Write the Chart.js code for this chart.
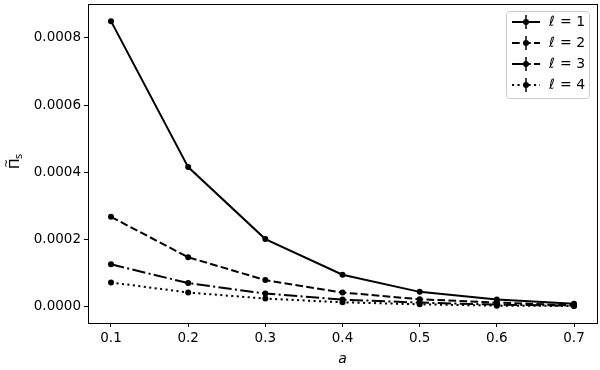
<!DOCTYPE html>
<html>
<head>
<meta charset="utf-8">
<script src="https://cdn.jsdelivr.net/npm/chart.js@4.4.1/dist/chart.umd.min.js"></script>
<style>
  html, body { margin: 0; padding: 0; background: #fff; }
  #wrap { width: 600px; height: 370px; }
</style>
</head>
<body>
<div id="wrap"><canvas id="piChart"></canvas></div>
<script>
const aValues = [0.1, 0.2, 0.3, 0.4, 0.5, 0.6, 0.7];
const pi_l1 = [0.000850, 0.000416, 0.000202, 0.000096, 0.000045, 0.000022, 0.000010];
const pi_l2 = [0.000268, 0.000148, 0.000080, 0.000043, 0.000023, 0.000013, 0.000005];
const pi_l3 = [0.000127, 0.000071, 0.000040, 0.000022, 0.000013, 0.000007, 0.000004];
const pi_l4 = [0.000073, 0.000043, 0.000025, 0.000014, 0.000008, 0.000004, 0.000003];
const seriesLabels = ["ℓ = 1", "ℓ = 2", "ℓ = 3", "ℓ = 4"];
const xTicks = [0.1, 0.2, 0.3, 0.4, 0.5, 0.6, 0.7];
const yTicks = [0.0000, 0.0002, 0.0004, 0.0006, 0.0008];

const FONT = "'DejaVu Sans', sans-serif";
const dashes = [[], [7.7, 3.3], [13.3, 3.3, 2.1, 3.3], [2.1, 3.4]];

function toPoints(vals) {
    return aValues.map((a, i) => ({x: a, y: vals[i]}));
}

const allSeries = [pi_l1, pi_l2, pi_l3, pi_l4];
const datasets = allSeries.map((vals, i) => ({
    label: seriesLabels[i],
    data: toPoints(vals),
    borderColor: "#000",
    backgroundColor: "#000",
    borderWidth: 2,
    borderDash: dashes[i],
    pointRadius: 3,
    pointHoverRadius: 3,
    pointBorderWidth: 0,
    tension: 0,
    fill: false
}));

// frame around the plot, y label and matplotlib style legend
const framePlugin = {
    id: "frame",
    afterDraw(chart) {
        const ctx = chart.ctx;
        const a = chart.chartArea;
        ctx.save();
        ctx.strokeStyle = "#000";
        ctx.lineWidth = 1;
        ctx.setLineDash([]);
        ctx.strokeRect(Math.round(a.left) + 0.5, Math.round(a.top) + 0.5,
            Math.round(a.right - a.left), Math.round(a.bottom - a.top));

        // y axis label: Pi with tilde, subscript s
        ctx.save();
        ctx.translate(19, 163);
        ctx.rotate(-Math.PI / 2);
        ctx.fillStyle = "#000";
        ctx.textBaseline = "alphabetic";
        ctx.font = "14px " + FONT;
        ctx.fillText("Π", -6, 0);
        ctx.font = "11px " + FONT;
        ctx.fillText("~", -5, -9);
        ctx.font = "10px " + FONT;
        ctx.fillText("s", 4, 3);
        ctx.restore();

        // legend box
        const bx = 506.5, by = 11.5, bw = 83, bh = 87;
        ctx.fillStyle = "rgba(255,255,255,0.8)";
        ctx.strokeStyle = "#cccccc";
        ctx.beginPath();
        ctx.roundRect(bx, by, bw, bh, 3);
        ctx.fill();
        ctx.stroke();

        ctx.textBaseline = "middle";
        seriesLabels.forEach((lab, i) => {
            const yy = 22 + i * 21;
            ctx.strokeStyle = "#000";
            ctx.lineWidth = 2;
            ctx.setLineDash(dashes[i]);
            ctx.beginPath();
            ctx.moveTo(512, yy);
            ctx.lineTo(540, yy);
            ctx.stroke();
            ctx.setLineDash([]);
            ctx.lineWidth = 1.5;
            ctx.beginPath();
            ctx.moveTo(526, yy - 7);
            ctx.lineTo(526, yy + 7);
            ctx.stroke();
            ctx.fillStyle = "#000";
            ctx.beginPath();
            ctx.arc(526, yy, 3, 0, Math.PI * 2);
            ctx.fill();
            ctx.font = "italic 14px " + FONT;
            ctx.fillText("ℓ", 549, yy);
            ctx.font = "14px " + FONT;
            ctx.fillText("= " + lab.split("= ")[1], 560, yy);
        });
        ctx.restore();
    }
};

new Chart("piChart", {
    type: "line",
    data: { datasets: datasets },
    options: {
        responsive: true,
        maintainAspectRatio: false,
        animation: false,
        events: [],
        layout: { padding: { top: 4, right: 3, left: 0, bottom: 0 } },
        plugins: {
            legend: { display: false },
            tooltip: { enabled: false }
        },
        scales: {
            x: {
                type: "linear",
                min: 0.0702,
                max: 0.7298,
                afterBuildTicks: (s) => { s.ticks = xTicks.map(v => ({value: v})); },
                afterFit: (s) => { s.height = 47; s.paddingLeft = 0; s.paddingRight = 0; },
                grid: { drawOnChartArea: false, tickLength: 4, tickColor: "#000", tickWidth: 1 },
                border: { display: true, color: "#000", width: 1 },
                ticks: {
                    color: "#000",
                    font: { family: FONT, size: 13.5 },
                    padding: 3,
                    maxRotation: 0,
                    callback: (v) => v.toFixed(1)
                },
                title: {
                    display: true,
                    text: "a",
                    color: "#000",
                    font: { family: FONT, size: 14, style: "italic" },
                    padding: { top: 0, bottom: 2 }
                }
            },
            y: {
                type: "linear",
                min: -0.0000476,
                max: 0.000901,
                afterBuildTicks: (s) => { s.ticks = yTicks.map(v => ({value: v})); },
                afterFit: (s) => { s.width = 88; s.paddingTop = 0; s.paddingBottom = 0; },
                grid: { drawOnChartArea: false, tickLength: 4, tickColor: "#000", tickWidth: 1 },
                border: { display: true, color: "#000", width: 1 },
                ticks: {
                    color: "#000",
                    font: { family: FONT, size: 13.5 },
                    padding: 3,
                    callback: (v) => v.toFixed(4)
                }
            }
        }
    },
    plugins: [framePlugin]
});
</script>
</body>
</html>
